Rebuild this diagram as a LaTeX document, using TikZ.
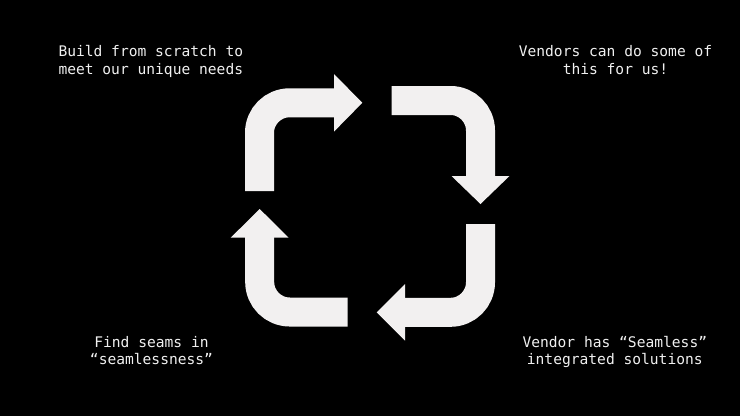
\documentclass[tikz,border=0pt]{standalone}
\usepackage{fontspec}
\setmonofont{DejaVu Sans Mono}
\definecolor{arrowgray}{HTML}{F2F0F0}
\definecolor{txtgray}{HTML}{F0F0F0}
\tikzset{
  bendarm/.style={draw=arrowgray, line width=29pt, rounded corners=30pt},
  arrhead/.style={fill=arrowgray},
  txt/.style={text=txtgray, align=center, anchor=base, inner sep=0pt,
    font=\ttfamily\fontsize{14.6}{17.3}\selectfont}
}
\begin{document}
\begin{tikzpicture}[x=1pt,y=-1pt]
\fill[black] (0,0) rectangle (740,416);
\useasboundingbox (0,0) rectangle (740,416);
% top-left arrow
\draw[bendarm] (259.5,191) -- (259.5,102.8) -- (335,102.8);
\fill[arrhead] (334,74) -- (362.3,102.8) -- (334,131.6) -- cycle;
% top-right arrow
\draw[bendarm] (391.7,100.5) -- (480.5,100.5) -- (480.5,177);
\fill[arrhead] (451.5,176) -- (509.5,176) -- (480.5,204) -- cycle;
% bottom-right arrow
\draw[bendarm] (480.5,224) -- (480.5,312.3) -- (404,312.3);
\fill[arrhead] (405,284) -- (376.7,312.3) -- (405,340.6) -- cycle;
% bottom-left arrow
\draw[bendarm] (347.7,312) -- (259.7,312) -- (259.7,236.7);
\fill[arrhead] (230.7,237.7) -- (288.7,237.7) -- (259.7,209) -- cycle;
% texts
\node[txt] (tl) at (150.8,74.2) {Build from scratch to\\meet our unique needs};
\node[txt] (tr) at (615.5,74.2) {Vendors can do some of\\this for us!};
\node[txt] (bl) at (151.5,364.5) {Find seams in\\“seamlessness”};
\node[txt] (br) at (614.8,364.5) {Vendor has “Seamless”\\integrated solutions};
\end{tikzpicture}
\end{document}
